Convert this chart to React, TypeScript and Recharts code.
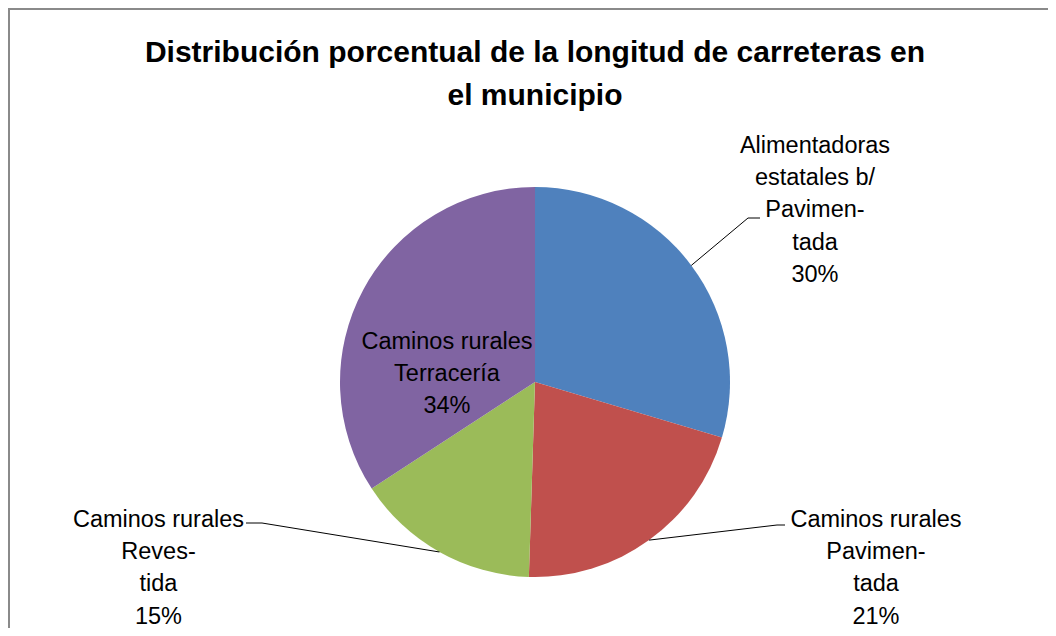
import { PieChart, Pie, Cell } from "recharts";

// road length share by type, clockwise from 12 o'clock
const categories = [
  "Alimentadoras\nestatales b/\nPavimen-\ntada",
  "Caminos rurales\nPavimen-\ntada",
  "Caminos rurales\nReves-\ntida",
  "Caminos rurales\nTerracería",
];
const shares = [29.6, 20.9, 15.3, 34.2];
const titleLines = [
  "Distribución porcentual de la longitud de carreteras en",
  "el municipio",
];

const colors = ["#4F81BD", "#C0504D", "#9BBB59", "#8064A2"];

const data = categories.map((name, i) => ({ name, value: shares[i] }));

const W = 1038;
const H = 618;
const CX = 525;
const CY = 372;
const R = 195;
const FONT = "'Liberation Sans', Arial, sans-serif";
const LINE = 32.2;

// where each label sits (chart px): text centre x, first baseline, leader elbow/end
const labelLayout: { x: number; y: number; elbow?: number[]; end?: number[] }[] = [
  { x: 805, y: 143, elbow: [738, 208], end: [750, 208] },
  { x: 866, y: 517, elbow: [767, 515], end: [775, 515] },
  { x: 148.5, y: 517, elbow: [252, 513], end: [236, 513] },
  { x: 437, y: 339 },
];

function renderLabel(props: any) {
  const { cx, cy, midAngle, outerRadius, index, percent } = props;
  const name = props.name ?? props.payload?.name ?? "";
  const lay = labelLayout[index];
  const lines = String(name).split("\n").concat(`${Math.round(percent * 100)}%`);
  const rad = Math.PI / 180;
  const sx = cx + outerRadius * Math.cos(-midAngle * rad);
  const sy = cy + outerRadius * Math.sin(-midAngle * rad);
  return (
    <g key={`lbl-${index}`}>
      {lay.elbow && lay.end && (
        <polyline
          points={`${sx},${sy} ${lay.elbow[0]},${lay.elbow[1]} ${lay.end[0]},${lay.end[1]}`}
          fill="none"
          stroke="#000"
          strokeWidth={1}
        />
      )}
      <text x={lay.x} y={lay.y} textAnchor="middle" fontFamily={FONT} fontSize={23.5} fill="#000">
        {lines.map((l, j) => (
          <tspan key={j} x={lay.x} y={lay.y + j * LINE}>
            {l}
          </tspan>
        ))}
      </text>
    </g>
  );
}

export default function App() {
  return (
    <div
      style={{
        position: "relative",
        width: W,
        height: H,
        borderLeft: "2px solid #8a8a8a",
        borderTop: "2px solid #8a8a8a",
        background: "#fff",
      }}
    >
      <PieChart width={W} height={H} margin={{ top: 0, right: 0, bottom: 0, left: 0 }}>
        <Pie
          data={data}
          dataKey="value"
          nameKey="name"
          cx={CX}
          cy={CY}
          outerRadius={R}
          startAngle={90}
          endAngle={-270}
          stroke="none"
          label={renderLabel}
          labelLine={false}
          isAnimationActive={false}
        >
          {data.map((d, i) => (
            <Cell key={d.name} fill={colors[i]} />
          ))}
        </Pie>
      </PieChart>
      <svg
        width={W}
        height={120}
        style={{ position: "absolute", left: 0, top: 0, pointerEvents: "none" }}
      >
        {titleLines.map((t, i) => (
          <text
            key={t}
            x={CX}
            y={52 + i * 43}
            textAnchor="middle"
            fontFamily={FONT}
            fontWeight="bold"
            fontSize={30}
            fill="#000"
          >
            {t}
          </text>
        ))}
      </svg>
    </div>
  );
}
